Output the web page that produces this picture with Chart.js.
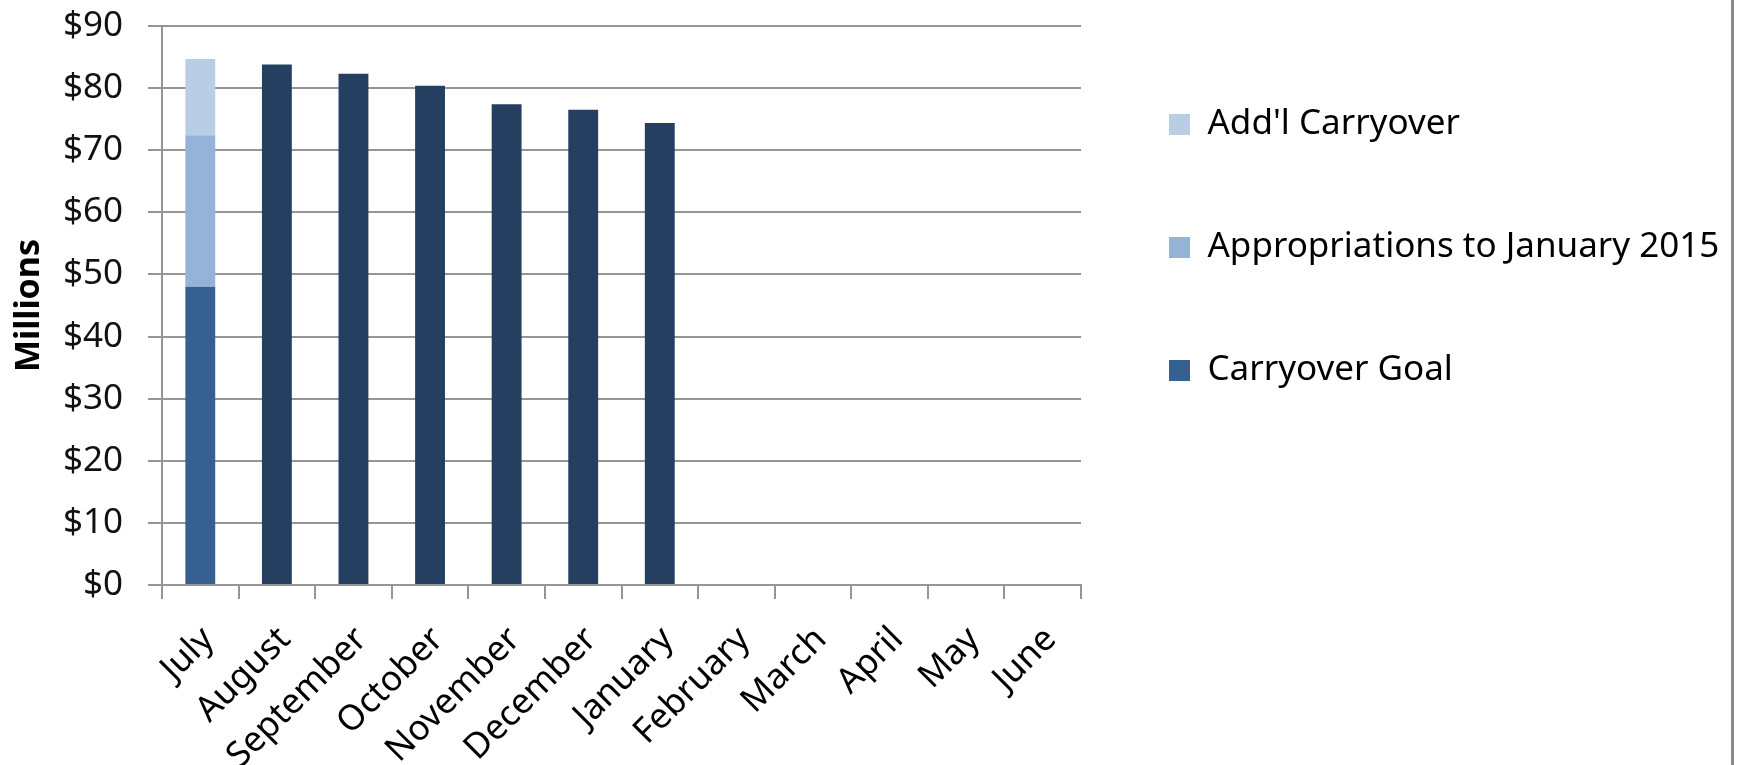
<!DOCTYPE html>
<html lang="en">
  <head>
    <meta charset="UTF-8" />
    <title>Carryover</title>
    <script src="https://cdn.jsdelivr.net/npm/chart.js"></script>
    <style>
      body {
        margin: 0;
        background: #fff;
      }
      .wrap {
        position: relative;
        width: 1737px;
        height: 765px;
      }
      /* chart frame edge on the right */
      .edge {
        position: absolute;
        left: 1731px;
        top: 0;
        width: 3px;
        height: 765px;
        background: #8a8a8a;
      }
    </style>
  </head>
  <body>
    <div class="wrap">
      <canvas id="chart" width="1737" height="765"></canvas>
      <div class="edge"></div>
    </div>

    <script>
      var months = [
        "July",
        "August",
        "September",
        "October",
        "November",
        "December",
        "January",
        "February",
        "March",
        "April",
        "May",
        "June",
      ];

      // values in $ millions
      var carryoverGoal = [48, 83.8, 82.3, 80.4, 77.4, 76.5, 74.4, null, null, null, null, null];
      var appropriations = [24.4, null, null, null, null, null, null, null, null, null, null, null];
      var addlCarryover = [12.3, null, null, null, null, null, null, null, null, null, null, null];

      var yTicks = [0, 10, 20, 30, 40, 50, 60, 70, 80, 90];

      var gridColor = "#959595";
      var goalBlue = "#376092";
      var darkBlue = "#253f60";

      Chart.defaults.font.family = "'Noto Sans', sans-serif";
      Chart.defaults.color = "#000";

      new Chart(document.getElementById("chart").getContext("2d"), {
        type: "bar",
        data: {
          labels: months,
          datasets: [
            {
              label: "Carryover Goal",
              data: carryoverGoal,
              // July is the goal, later months are drawn darker
              backgroundColor: function (c) {
                return c.dataIndex > 0 ? darkBlue : goalBlue;
              },
            },
            {
              label: "Appropriations to January 2015",
              data: appropriations,
              backgroundColor: "#95b3d7",
            },
            {
              label: "Add'l Carryover",
              data: addlCarryover,
              backgroundColor: "#b9cde5",
            },
          ],
        },
        options: {
          responsive: false,
          animation: false,
          layout: { padding: { top: 0, right: 16, bottom: 0, left: 0 } },
          datasets: {
            bar: {
              categoryPercentage: 1,
              barPercentage: 0.39,
              borderWidth: 0,
            },
          },
          plugins: {
            tooltip: { enabled: false },
            legend: {
              position: "right",
              align: "start",
              reverse: true,
              maxWidth: 640,
              title: {
                display: true,
                text: "",
                font: { size: 10 },
                padding: { top: 7, bottom: 0 },
              },
              labels: {
                boxWidth: 21,
                boxHeight: 21,
                padding: 88,
                color: "#000",
                font: { size: 35 },
              },
            },
          },
          scales: {
            x: {
              stacked: true,
              offset: true,
              afterFit: function (scale) {
                scale.height = 180;
              },
              grid: {
                offset: true,
                drawOnChartArea: false,
                color: gridColor,
                lineWidth: 2,
                tickLength: 14,
              },
              border: { color: gridColor, width: 2 },
              ticks: {
                autoSkip: false,
                minRotation: 45,
                maxRotation: 45,
                padding: 20,
                labelOffset: 8,
                color: "#000",
                font: { size: 35 },
              },
            },
            y: {
              stacked: true,
              min: 0,
              max: 90,
              afterFit: function (scale) {
                scale.width = 162;
                scale.paddingTop = 26;
              },
              afterBuildTicks: function (scale) {
                scale.ticks = yTicks.map(function (v) {
                  return { value: v };
                });
              },
              grid: {
                color: gridColor,
                lineWidth: 2,
                tickLength: 14,
              },
              border: { color: gridColor, width: 2 },
              ticks: {
                padding: 25,
                color: "#111",
                font: { size: 35 },
                callback: function (v) {
                  return "$" + v;
                },
              },
              title: {
                display: true,
                text: "Millions",
                color: "#000",
                font: { size: 34, weight: "bold" },
                padding: { top: 9, bottom: 0 },
              },
            },
          },
        },
      });
    </script>
  </body>
</html>
